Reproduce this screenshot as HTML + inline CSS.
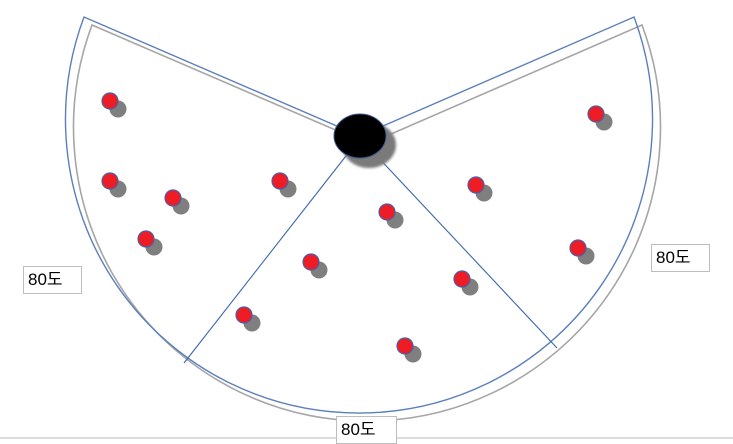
<!DOCTYPE html>
<html><head><meta charset="utf-8"><style>
body{margin:0;background:#fff;width:733px;height:443px;overflow:hidden;font-family:"Liberation Sans","Noto Sans CJK KR",sans-serif}
.lbl{position:absolute;background:#fff;border:1px solid #bdbdbd;font-size:17px;line-height:26px;padding:0 4px;color:#000}
</style></head><body>
<svg width="733" height="443" style="position:absolute;left:0;top:0">
<defs><filter id="b" x="-50%" y="-50%" width="200%" height="200%"><feGaussianBlur stdDeviation="1.2"/></filter></defs>
<line x1="0" y1="438" x2="733" y2="438" stroke="#c8c8c8" stroke-width="1.2"/>
<path d="M 84 17 A 293.5 293.5 0 1 0 634 17 L 360 136 Z" transform="translate(8,8)" fill="none" stroke="#a6a6a6" stroke-width="1.6"/>
<path d="M 84 17 A 293.5 293.5 0 1 0 634 17 L 360 136 Z" fill="none" stroke="#5b7fbd" stroke-width="1.4"/>
<line x1="360" y1="138" x2="184" y2="363" stroke="#3b66ad" stroke-width="1.1"/>
<line x1="360" y1="138" x2="557" y2="348" stroke="#3b66ad" stroke-width="1.1"/>
<ellipse cx="369" cy="145" rx="27" ry="23" fill="#7a7a7a" filter="url(#b)"/>
<ellipse cx="360" cy="136" rx="26" ry="22" fill="#000" stroke="#3b5a8f" stroke-width="1"/>
<g id="dots"></g>
</svg>
<div class="lbl" style="left:23px;top:266px;width:49px">80도</div>
<div class="lbl" style="left:651px;top:244px;width:49px">80도</div>
<div class="lbl" style="left:336px;top:416px;width:51px">80도</div>
<script>
const dotX=[110,110,173,146,280,387,476,311,244,462,405,596,578];
const dotY=[101,181,198,239,181,212,185,262,315,279,346,114,248];
const g=document.getElementById('dots');
const ns='http://www.w3.org/2000/svg';
for(let i=0;i<dotX.length;i++){
  const s=document.createElementNS(ns,'circle');
  s.setAttribute('cx',dotX[i]+8);s.setAttribute('cy',dotY[i]+8);s.setAttribute('r',8.5);
  s.setAttribute('fill','#7f7f7f');
  
  
  g.appendChild(s);
  const c=document.createElementNS(ns,'circle');
  c.setAttribute('cx',dotX[i]);c.setAttribute('cy',dotY[i]);c.setAttribute('r',8);
  c.setAttribute('fill','#ee1c25');c.setAttribute('stroke','#4a5fa8');c.setAttribute('stroke-width','1.2');
  
  
  g.appendChild(c);
}
</script>
</body></html>
